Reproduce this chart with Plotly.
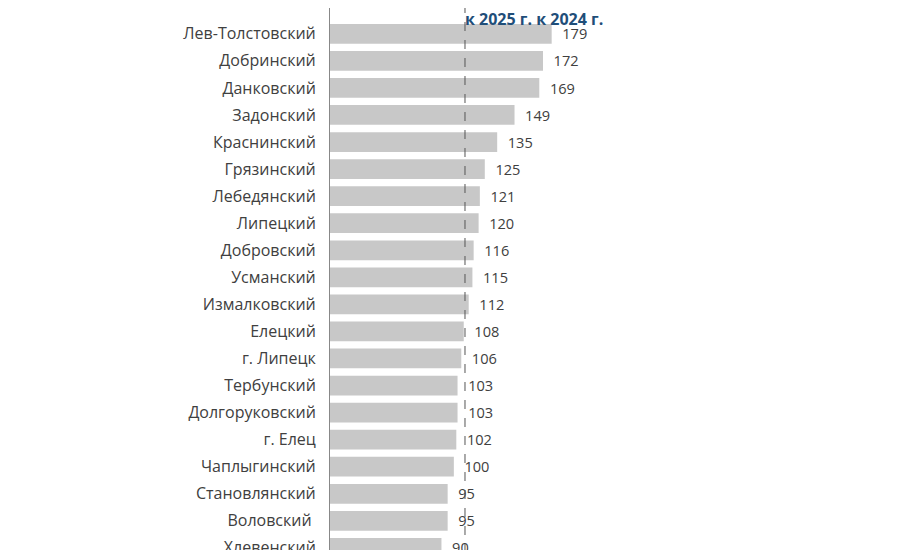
import plotly.graph_objects as go

# Районы и значения
districts = ['Лев-Толстовский', 'Добринский', 'Данковский', 'Задонский', 'Краснинский',
             'Грязинский', 'Лебедянский', 'Липецкий', 'Добровский', 'Усманский',
             'Измалковский', 'Елецкий', 'г. Липецк', 'Тербунский', 'Долгоруковский',
             'г. Елец', 'Чаплыгинский', 'Становлянский', 'Воловский ', 'Хлевенский']
values = [179, 172, 169, 149, 135, 125, 121, 120, 116, 115,
          112, 108, 106, 103, 103, 102, 100, 95, 95, 90]
avg_line = 109

fig = go.Figure()
fig.add_trace(go.Bar(x=values, y=districts, orientation='h',
                     marker=dict(color='#c8c8c8', line=dict(width=0)),
                     text=values, texttemplate='  %{text}', textposition='outside',
                     textfont=dict(size=17, color='#404040', family='Open Sans'),
                     cliponaxis=False))

fig.add_shape(type='line', x0=avg_line, x1=avg_line, y0=0, y1=1, xref='x', yref='paper',
              line=dict(color='#555555', width=1, dash='dash'), layer='above')

fig.add_annotation(text='<b>к 2025 г. к 2024 г.</b>', x=455, y=0, xref='paper', yref='paper',
                   showarrow=False, font=dict(size=16, color='#1f4e79', family='Open Sans'))
fig.layout.annotations[0].update(x=(455 - 322) / (909 - 322), y=1, yanchor='top', yshift=2)

fig.update_layout(width=909, height=550, margin=dict(l=322, r=0, t=0, b=0),
                  plot_bgcolor='white', paper_bgcolor='white', showlegend=False,
                  bargap=0.27, font=dict(family='Open Sans', size=16, color='#404040'))
fig.update_xaxes(range=[0, 474], visible=False)
fig.update_yaxes(autorange=False, range=[19.19, -0.955], showline=True, linecolor='#888888',
                 linewidth=1, ticks='', ticklabelstandoff=10, showgrid=False,
                 tickfont=dict(size=16, color='#404040'))

fig.write_html('out.html')
